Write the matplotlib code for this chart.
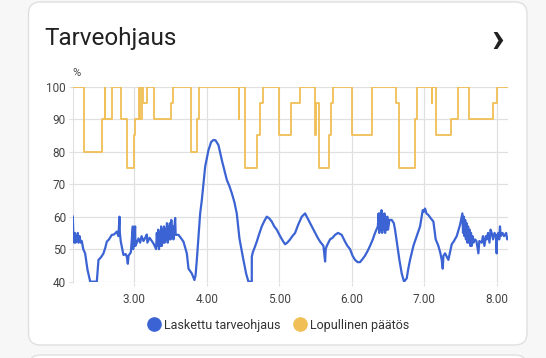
import numpy as np
import matplotlib
matplotlib.use('Agg')
import matplotlib.pyplot as plt
from matplotlib.patches import FancyBboxPatch
from matplotlib.lines import Line2D
from matplotlib.ticker import FormatStrFormatter

plt.rcParams['font.family'] = ['Roboto', 'DejaVu Sans']

# hours (decimal) and values in %
blue_t = [2.151, 2.160, 2.170, 2.180, 2.190, 2.200, 2.210, 2.220, 2.230, 2.245,
          2.260, 2.275, 2.295, 2.321, 2.354, 2.391, 2.482, 2.505, 2.540, 2.574,
          2.600, 2.620, 2.650, 2.689, 2.720, 2.758, 2.780, 2.795, 2.800, 2.813,
          2.850, 2.880, 2.896, 2.910, 2.920, 2.951, 2.979, 2.983, 2.988, 3.011,
          3.015, 3.025, 3.057, 3.080, 3.100, 3.126, 3.150, 3.172, 3.180, 3.210,
          3.241, 3.270, 3.300, 3.310, 3.320, 3.330, 3.340, 3.350, 3.360, 3.370,
          3.380, 3.390, 3.400, 3.410, 3.420, 3.430, 3.440, 3.450, 3.460, 3.470,
          3.480, 3.490, 3.500, 3.510, 3.520, 3.530, 3.540, 3.563, 3.570, 3.609,
          3.640, 3.678, 3.724, 3.747, 3.793, 3.829, 3.845, 3.862, 3.908, 3.931,
          3.977, 4.023, 4.060, 4.092, 4.120, 4.161, 4.207, 4.240, 4.276, 4.310,
          4.345, 4.380, 4.413, 4.450, 4.496, 4.542, 4.574, 4.620, 4.621, 4.634,
          4.660, 4.689, 4.720, 4.758, 4.790, 4.827, 4.860, 4.896, 4.930, 4.965,
          5.011, 5.050, 5.080, 5.110, 5.149, 5.180, 5.218, 5.260, 5.310, 5.356,
          5.390, 5.425, 5.460, 5.494, 5.530, 5.563, 5.609, 5.632, 5.640, 5.655,
          5.700, 5.735, 5.769, 5.810, 5.861, 5.907, 5.940, 5.976, 6.010, 6.045,
          6.080, 6.114, 6.150, 6.183, 6.220, 6.252, 6.290, 6.321, 6.340, 6.360,
          6.370, 6.380, 6.390, 6.400, 6.410, 6.420, 6.430, 6.440, 6.450, 6.460,
          6.470, 6.480, 6.490, 6.500, 6.520, 6.551, 6.580, 6.597, 6.629, 6.657,
          6.689, 6.721, 6.740, 6.758, 6.780, 6.804, 6.850, 6.896, 6.942, 6.979,
          6.995, 7.011, 7.030, 7.057, 7.090, 7.126, 7.158, 7.195, 7.220, 7.241,
          7.255, 7.265, 7.287, 7.333, 7.355, 7.379, 7.410, 7.448, 7.494, 7.526,
          7.535, 7.545, 7.555, 7.565, 7.575, 7.585, 7.595, 7.605, 7.615, 7.625,
          7.635, 7.645, 7.655, 7.665, 7.680, 7.700, 7.720, 7.747, 7.760, 7.793,
          7.810, 7.830, 7.850, 7.862, 7.880, 7.900, 7.915, 7.931, 7.950, 7.970,
          7.990, 7.999, 8.005, 8.020, 8.035, 8.045, 8.055, 8.080, 8.100, 8.114,
          8.130, 8.145, 8.160]
blue_v = [60.0, 53.0, 52.0, 55.0, 52.0, 54.0, 53.0, 55.0, 52.0, 54.0,
          52.0, 52.5, 50.0, 48.7, 43.6, 40.0, 40.0, 46.7, 47.5, 48.7,
          50.5, 52.3, 53.0, 54.4, 54.5, 55.4, 54.0, 60.0, 55.0, 52.3,
          48.2, 48.5, 47.7, 45.5, 48.0, 49.0, 57.0, 50.0, 51.0, 57.0,
          51.0, 51.5, 53.3, 52.0, 54.0, 52.5, 53.5, 54.5, 52.0, 53.5,
          52.5, 51.5, 50.0, 55.0, 51.0, 56.0, 50.0, 55.0, 51.0, 57.0,
          51.0, 56.0, 52.0, 57.0, 52.0, 56.0, 53.0, 58.0, 52.0, 57.0,
          53.0, 58.0, 53.0, 59.0, 54.0, 57.0, 53.0, 59.6, 54.4, 54.4,
          53.5, 52.3, 48.7, 44.0, 42.5, 40.5, 42.0, 46.7, 61.0, 65.1,
          75.4, 80.5, 83.0, 83.6, 83.5, 82.0, 77.4, 74.5, 71.3, 69.5,
          67.2, 64.5, 61.0, 53.3, 47.7, 42.5, 40.0, 40.0, 47.7, 49.0,
          50.5, 52.3, 54.5, 57.0, 58.5, 60.0, 59.5, 58.5, 57.0, 56.0,
          54.0, 52.5, 51.5, 52.0, 53.0, 54.0, 55.0, 57.5, 60.0, 61.0,
          59.5, 58.0, 56.5, 55.0, 53.5, 52.3, 51.0, 46.2, 50.0, 51.0,
          53.0, 53.5, 54.4, 55.0, 54.4, 52.3, 51.0, 50.0, 48.0, 46.7,
          46.0, 46.0, 47.0, 48.0, 49.5, 51.0, 53.0, 55.0, 56.0, 57.0,
          61.0, 55.0, 61.0, 56.0, 62.0, 55.0, 60.0, 56.0, 61.0, 55.0,
          59.0, 56.0, 60.0, 56.0, 59.0, 59.0, 58.0, 56.0, 51.0, 46.7,
          42.5, 40.0, 40.5, 41.0, 44.0, 46.7, 51.0, 54.0, 57.0, 62.0,
          61.5, 62.5, 61.0, 60.5, 59.5, 58.5, 53.0, 51.0, 49.0, 46.7,
          44.0, 48.0, 48.7, 46.7, 49.0, 51.5, 52.5, 54.0, 57.5, 61.0,
          55.0, 60.0, 54.0, 59.0, 53.0, 58.0, 52.0, 57.0, 52.0, 56.0,
          51.0, 55.0, 51.0, 54.0, 52.0, 53.0, 52.5, 48.7, 52.5, 52.0,
          54.0, 51.0, 54.0, 53.0, 55.0, 52.0, 56.0, 55.0, 53.0, 55.0,
          54.0, 48.7, 54.0, 55.0, 53.0, 57.0, 54.0, 55.0, 54.0, 54.4,
          55.0, 53.0, 53.4]

yellow_t = [2.152, 2.310, 2.550, 2.590, 2.600, 2.690, 2.810, 2.900, 2.990, 3.010,
            3.070, 3.080, 3.100, 3.120, 3.170, 3.270, 3.500, 3.540, 3.780, 3.870,
            3.890, 4.440, 4.450, 4.530, 4.690, 4.730, 4.780, 4.990, 5.160, 5.280,
            5.490, 5.494, 5.500, 5.553, 5.687, 5.714, 5.747, 6.000, 6.275, 6.611,
            6.657, 6.873, 6.896, 7.103, 7.110, 7.158, 7.365, 7.471, 7.622, 7.953,
            8.009, 8.160]
yellow_v = [100, 80, 90, 100, 90, 100, 90, 75, 85, 90,
            100, 90, 100, 95, 100, 90, 95, 100, 80, 90,
            100, 90, 100, 75, 85, 95, 100, 85, 95, 100,
            95, 85, 95, 75, 85, 95, 100, 85, 100, 95,
            75, 90, 100, 95, 100, 85, 90, 100, 90, 95,
            100, 100]

blue_col = '#3b63d3'
yellow_col = '#f0bf55'

fig = plt.figure(figsize=(5.46, 3.58), dpi=100)
fig.patch.set_facecolor('#f7f7f7')

# cards behind everything
card = FancyBboxPatch((0.285, 0.13), 4.985, 3.43, boxstyle='round,pad=0,rounding_size=0.12',
                      transform=fig.dpi_scale_trans, facecolor='white', edgecolor='#e0e0e0',
                      linewidth=1, zorder=-5)
fig.patches.append(card)
card2 = FancyBboxPatch((0.285, -0.5), 4.985, 0.53, boxstyle='round,pad=0,rounding_size=0.12',
                       transform=fig.dpi_scale_trans, facecolor='white', edgecolor='#e0e0e0',
                       linewidth=1, zorder=-5)
fig.patches.append(card2)

fig.text(0.082, 0.893, 'Tarveohjaus', fontsize=17.5, color='#212121', va='center', ha='left')
fig.text(0.912, 0.888, '›', fontsize=30, color='#212121', va='center', ha='center', fontweight='bold')
fig.text(0.141, 0.795, '%', fontsize=8, color='#444444', va='center', ha='center')

ax = fig.add_axes([0.1335, 0.2133, 0.7975, 0.5445])
ax.set_facecolor('none')
ax.plot(yellow_t, yellow_v, drawstyle='steps-post', color=yellow_col, linewidth=1.3, zorder=3)
ax.plot(blue_t, blue_v, color=blue_col, linewidth=1.6, zorder=4)

ax.set_xlim(2.152, 8.16)
ax.set_ylim(40, 100)
ax.set_yticks([40, 50, 60, 70, 80, 90, 100])
ax.set_xticks([3, 4, 5, 6, 7, 8])
ax.xaxis.set_major_formatter(FormatStrFormatter('%.2f'))
ax.grid(True, color='#e0e0e0', linewidth=0.9, zorder=0)
for s in ['top', 'right', 'bottom']:
    ax.spines[s].set_visible(False)
ax.spines['left'].set_color('#e0e0e0')
ax.tick_params(axis='both', colors='#e0e0e0', labelcolor='#444444', labelsize=8.5, length=3)
ax.tick_params(axis='y', pad=2)
ax.tick_params(axis='x', pad=5)

handles = [Line2D([], [], linestyle='none', marker='o', markersize=9.5, color=blue_col),
           Line2D([], [], linestyle='none', marker='o', markersize=9.5, color=yellow_col)]
fig.legend(handles, ['Laskettu tarveohjaus', 'Lopullinen päätös'], loc='center',
           bbox_to_anchor=(0.51, 0.092), ncol=2, frameon=False, fontsize=9,
           handletextpad=0.3, columnspacing=1.1, handlelength=1.0, labelcolor='#333333')

fig.savefig('out.png', dpi=100, facecolor=fig.get_facecolor())
